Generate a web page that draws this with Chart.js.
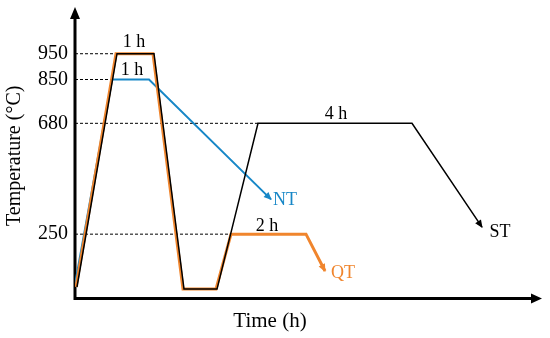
<!DOCTYPE html>
<html>
<head>
<meta charset="utf-8">
<script src="https://cdn.jsdelivr.net/npm/chart.js@4.4.1/dist/chart.umd.min.js"></script>
<style>
body { margin: 0; background: #fff; }
</style>
</head>
<body>
<canvas id="heatChart" width="550" height="338"></canvas>
<script>
// time axis has no units in the figure, so x is just relative time
const stTime = [2, 42, 79, 109, 142, 183, 337, 407];
const stTemp = [45, 950, 950, 37, 37, 680, 680, 277];
const qtTime = [1, 41, 78, 108, 141, 156, 231, 250];
const qtTemp = [45, 950, 950, 37, 37, 250, 250, 107];
const ntTime = [0, 37, 74, 196];
const ntTemp = [55, 850, 850, 385];

const yTicks = [250, 680, 850, 950];
const refTemps = [950, 850, 680, 250];
const refEnds = [41, 37, 183, 156];

const holdLabels = ['1 h', '1 h', '4 h', '2 h'];
const holdTime = [59, 57, 261, 192];
const holdTemp = [996, 887, 717, 281];

const endLabels = ['NT', 'QT', 'ST'];
const endTime = [210, 268, 425];
const endTemp = [381, 99, 257];
const endColors = ['#1787c7', '#f0852d', '#000'];

const serif = '"Liberation Serif", "DejaVu Serif", serif';

function pts(xs, ys) {
	return xs.map((x, i) => ({x: x, y: ys[i]}));
}

const refSets = refTemps.map((t, i) => ({
	data: [{x: 0, y: t}, {x: refEnds[i], y: t}],
	borderColor: '#000',
	borderWidth: 1,
	borderDash: [3, 2],
	pointRadius: 0
}));

const decor = {
	id: 'decor',
	beforeDatasetsDraw(chart) {
		const ctx = chart.ctx, a = chart.chartArea;
		const x0 = chart.scales.x.getPixelForValue(0);
		const y0 = chart.scales.y.getPixelForValue(0);
		const top = a.top - 6; // arrow pokes a little above the plot area
		ctx.save();
		ctx.strokeStyle = '#000';
		ctx.fillStyle = '#000';
		ctx.lineWidth = 3;
		ctx.beginPath();
		ctx.moveTo(x0, top + 10);
		ctx.lineTo(x0, y0);
		ctx.lineTo(a.right - 9, y0);
		ctx.stroke();
		// axis arrows
		ctx.beginPath();
		ctx.moveTo(x0, top);
		ctx.lineTo(x0 - 5, top + 12);
		ctx.lineTo(x0 + 5, top + 12);
		ctx.fill();
		ctx.beginPath();
		ctx.moveTo(a.right, y0);
		ctx.lineTo(a.right - 11, y0 - 5);
		ctx.lineTo(a.right - 11, y0 + 5);
		ctx.fill();
		ctx.restore();
	},
	afterDatasetsDraw(chart) {
		const ctx = chart.ctx, xs = chart.scales.x, ys = chart.scales.y;
		ctx.save();
		// arrow heads at the end of the cooling lines
		[0, 1, 2].forEach(i => {
			const d = chart.getDatasetMeta(i).data;
			const p = d[d.length - 1], q = d[d.length - 2];
			const ang = Math.atan2(p.y - q.y, p.x - q.x);
			ctx.save();
			ctx.translate(p.x, p.y);
			ctx.rotate(ang);
			ctx.fillStyle = chart.data.datasets[i].borderColor;
			ctx.beginPath();
			ctx.moveTo(1, 0);
			ctx.lineTo(-7, -3.5);
			ctx.lineTo(-7, 3.5);
			ctx.fill();
			ctx.restore();
		});
		ctx.font = '18px ' + serif;
		ctx.textAlign = 'center';
		ctx.textBaseline = 'middle';
		ctx.fillStyle = '#000';
		holdLabels.forEach((s, i) => {
			ctx.fillText(s, xs.getPixelForValue(holdTime[i]), ys.getPixelForValue(holdTemp[i]));
		});
		endLabels.forEach((s, i) => {
			ctx.fillStyle = endColors[i];
			ctx.fillText(s, xs.getPixelForValue(endTime[i]), ys.getPixelForValue(endTemp[i]));
		});
		// x title sits left of centre in the original
		ctx.fillStyle = '#000';
		ctx.font = '21px ' + serif;
		ctx.fillText('Time (h)', xs.getPixelForValue(195), chart.chartArea.bottom + 23);
		ctx.restore();
	}
};

new Chart(document.getElementById('heatChart'), {
	type: 'line',
	data: {
		datasets: [
			{data: pts(stTime, stTemp), borderColor: '#000', borderWidth: 1.5, pointRadius: 0},
			{data: pts(qtTime, qtTemp), borderColor: '#f0852d', borderWidth: 3, pointRadius: 0},
			{data: pts(ntTime, ntTemp), borderColor: '#1787c7', borderWidth: 2, pointRadius: 0}
		].concat(refSets)
	},
	options: {
		responsive: false,
		animation: false,
		layout: {padding: {top: 0, right: 8, bottom: 39.4, left: 0}},
		plugins: {
			legend: {display: false},
			tooltip: {enabled: false}
		},
		scales: {
			x: {
				type: 'linear',
				display: false,
				min: 0,
				max: 467
			},
			y: {
				min: 0,
				max: 1108,
				afterFit(scale) { scale.width = 75; },
				afterBuildTicks(scale) { scale.ticks = yTicks.map(v => ({value: v})); },
				grid: {display: false, drawTicks: false},
				border: {display: false},
				ticks: {
					color: '#000',
					padding: 7,
					font: {family: serif, size: 20, lineHeight: 0.6}
				},
				title: {
					display: true,
					text: 'Temperature (°C)',
					color: '#000',
					padding: {top: 3, bottom: 0},
					font: {family: serif, size: 20}
				}
			}
		}
	},
	plugins: [decor]
});
</script>
</body>
</html>
